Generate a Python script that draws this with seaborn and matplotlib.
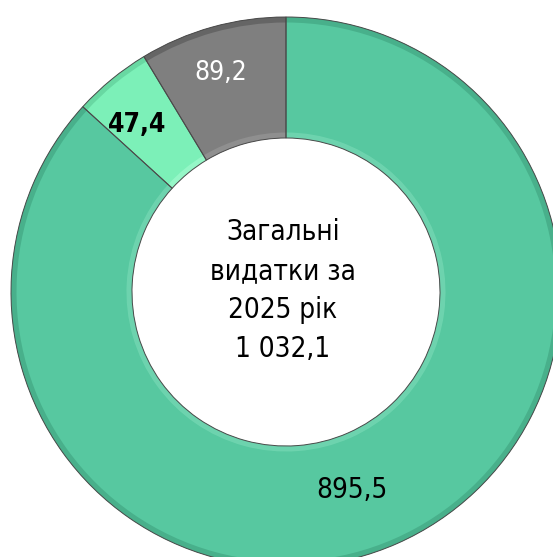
import matplotlib
matplotlib.use("Agg")
import matplotlib.pyplot as plt
import seaborn as sns

# -----------------------------
# DATA
# -----------------------------
values = [895.5, 47.4, 89.2]
labels = ["895,5", "47,4", "89,2"]
colors = ["#57c8a0", "#7cf0b8", "#7f7f7f"]
rim_dark = ["#48b08b", "#68d8a2", "#656565"]
rim_light = ["#7ddcb8", "#a6fcd2", "#9a9a9a"]
label_colors = ["black", "black", "white"]
center_text = "Загальні\nвидатки за\n2025 рік\n1 032,1"

# -----------------------------
# SETUP
# -----------------------------
sns.set_theme(style="white")
plt.rcParams["font.family"] = ["DejaVu Sans"]
plt.rcParams["font.stretch"] = "condensed"

W, H = 553, 557
fig = plt.figure(figsize=(W / 100, H / 100), dpi=100)
cx, cy, r = 286, 292, 275
ax = fig.add_axes([(cx - r) / W, (H - cy - r) / H, 2 * r / W, 2 * r / H])

width = 0.44
inner = 1 - width
pie_kw = dict(startangle=90, counterclock=False)

# main ring
ax.pie(values, colors=colors, radius=1,
       wedgeprops=dict(width=width, linewidth=0), **pie_kw)
# bevel rims
ax.pie(values, colors=rim_dark, radius=1,
       wedgeprops=dict(width=0.02, linewidth=0), **pie_kw)
ax.pie(values, colors=rim_light, radius=inner + 0.02,
       wedgeprops=dict(width=0.02, linewidth=0, alpha=0.6), **pie_kw)
ax.pie(values, colors=["none"] * 3, radius=1,
       wedgeprops=dict(width=width, edgecolor="#4a4a4a", linewidth=0.7), **pie_kw)

ax.set_xlim(-1, 1)
ax.set_ylim(-1, 1)
ax.set_aspect("equal")
ax.axis("off")

# -----------------------------
# LABELS
# -----------------------------
label_pos = [(352, 490), (137, 125), (221, 73)]
label_sizes = [20, 19, 19]
label_weights = ["normal", "bold", "normal"]
for (px, py), txt, tc, fs, fw in zip(label_pos, labels, label_colors, label_sizes, label_weights):
    fig.text(px / W, 1 - py / H, txt, ha="center", va="center",
             fontsize=fs, color=tc, fontweight=fw)

fig.text(283 / W, 1 - 291 / H, center_text, ha="center", va="center",
         fontsize=20, color="black", linespacing=1.5)

fig.savefig("out.png", dpi=100)
